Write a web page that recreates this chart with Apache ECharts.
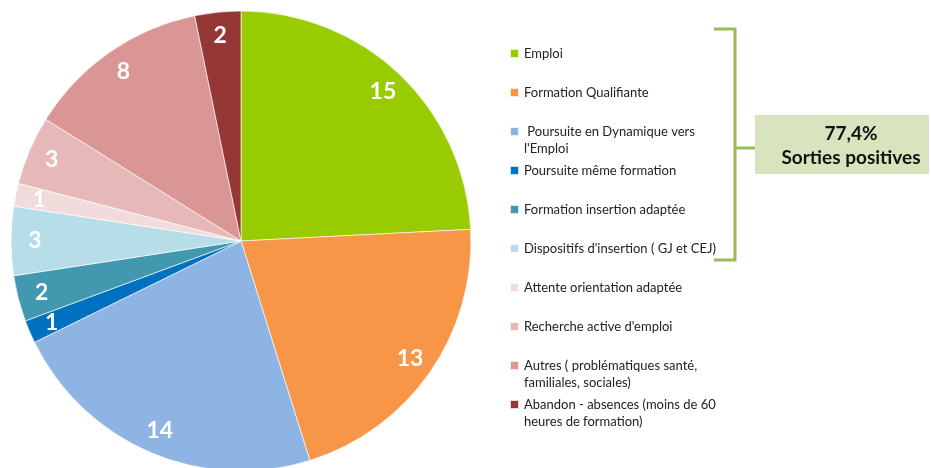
<!DOCTYPE html>
<html>
<head>
<meta charset="utf-8">
<script src="https://cdn.jsdelivr.net/npm/echarts@6/dist/echarts.min.js"></script>
<style>
  html, body { margin: 0; padding: 0; background: #fff; }
  #chart { width: 931px; height: 468px; }
</style>
</head>
<body>
<div id="chart"></div>
<script>
// categories, in the order they're drawn clockwise from 12 o'clock
const categories = [
  'Emploi',
  'Formation Qualifiante',
  ' Poursuite en Dynamique vers\nl\'Emploi',
  'Poursuite même formation',
  'Formation insertion adaptée',
  'Dispositifs d\'insertion ( GJ et CEJ)',
  'Attente orientation adaptée',
  'Recherche active d\'emploi',
  'Autres ( problématiques santé,\nfamiliales, sociales)',
  'Abandon - absences (moins de 60\nheures de formation)'
];
const counts = [15, 13, 14, 1, 2, 3, 1, 3, 8, 2];
const colors = ['#99CC00', '#F79646', '#8EB4E3', '#0070C0', '#4198AF',
                '#B7DEE8', '#F2DCDB', '#E6B9B8', '#D99694', '#953735'];
const summaryLines = ['77,4%', 'Sorties positives'];

const pieData = categories.map((name, i) => ({
  name: name,
  value: counts[i],
  itemStyle: { color: colors[i] }
}));

const chart = echarts.init(document.getElementById('chart'), null, { renderer: 'canvas' });

// one legend block per item so every row keeps the same 39px pitch.
// legend text is centred on the square, so two-line entries get an empty
// line on top: the square then lines up with the first real line
const legends = categories.map((name, i) => {
  const twoLines = name.indexOf('\n') >= 0;
  return {
    data: [name],
    orient: 'vertical',
    left: 509,
    top: 45 + i * 39 - (twoLines ? 17 : 0),
    padding: 0,
    itemWidth: 9,
    itemHeight: 9,
    icon: 'rect',
    selectedMode: false,
    formatter: (n) => (twoLines ? '\n' + n : n),
    textStyle: {
      fontFamily: 'Lato',
      fontSize: 13,
      color: '#222',
      lineHeight: 17
    }
  };
});

const option = {
  animation: false,
  backgroundColor: '#fff',
  legend: legends,
  series: [
    {
      type: 'pie',
      center: [241, 241],
      radius: [0, 230],
      startAngle: 90,
      clockwise: true,
      silent: true,
      itemStyle: { borderColor: 'rgba(255,255,255,0.8)', borderWidth: 0.8 },
      label: { show: false },
      labelLine: { show: false },
      data: pieData
    },
    {
      // transparent ring only used to place the value labels near the rim
      type: 'pie',
      center: [241, 241],
      radius: [176, 230],
      startAngle: 90,
      clockwise: true,
      silent: true,
      itemStyle: { color: 'transparent' },
      label: {
        show: true,
        position: 'inside',
        formatter: '{c}',
        color: '#fff',
        fontFamily: 'Lato',
        fontWeight: 'bold',
        fontSize: 23
      },
      labelLine: { show: false },
      data: categories.map((name, i) => ({ name: name, value: counts[i] }))
    }
  ],
  graphic: [
    {
      type: 'polyline',
      shape: { points: [[714, 29], [735, 29], [735, 260], [714, 260]] },
      style: { stroke: '#9BBB59', lineWidth: 3, fill: null }
    },
    {
      type: 'line',
      shape: { x1: 735, y1: 148, x2: 755, y2: 148 },
      style: { stroke: '#9BBB59', lineWidth: 3 }
    },
    {
      type: 'rect',
      shape: { x: 755, y: 115, width: 174, height: 59 },
      style: { fill: '#D7E4BD' }
    },
    {
      type: 'text',
      x: 851,
      y: 134,
      style: {
        text: summaryLines[0],
        fontFamily: 'Lato',
        fontWeight: 'bold',
        fontSize: 19,
        fill: '#111',
        align: 'center',
        verticalAlign: 'middle'
      }
    },
    {
      type: 'text',
      x: 851,
      y: 158,
      style: {
        text: summaryLines[1],
        fontFamily: 'Lato',
        fontWeight: 'bold',
        fontSize: 19,
        fill: '#111',
        align: 'center',
        verticalAlign: 'middle'
      }
    }
  ]
};

chart.setOption(option);
</script>
</body>
</html>
